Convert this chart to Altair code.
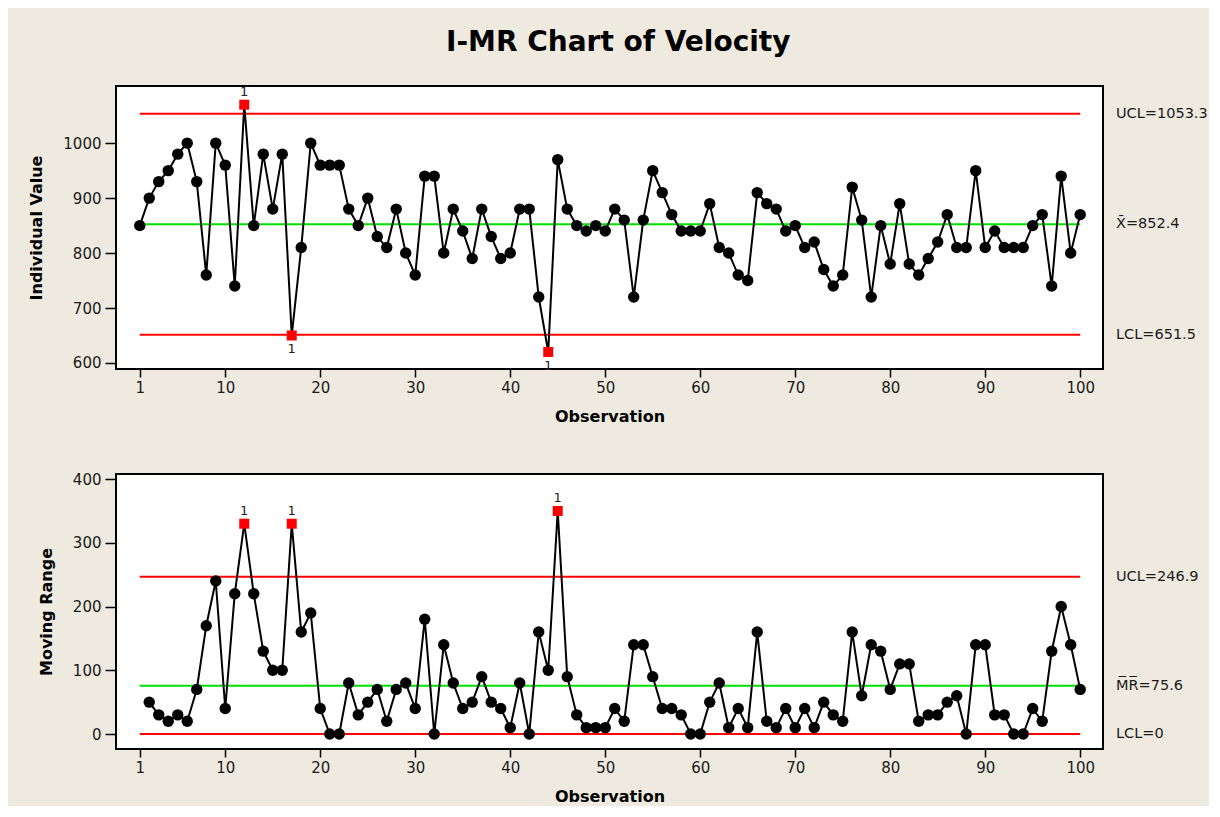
import altair as alt
import pandas as pd

# ---------------- data ----------------
observations = list(range(1, 101))
individual_values = [
    850, 900, 930, 950, 980, 1000, 930, 760, 1000, 960,
    740, 1070, 850, 980, 880, 980, 650, 810, 1000, 960,
    960, 960, 880, 850, 900, 830, 810, 880, 800, 760,
    940, 940, 800, 880, 840, 790, 880, 830, 790, 800,
    880, 880, 720, 620, 970, 880, 850, 840, 850, 840,
    880, 860, 720, 860, 950, 910, 870, 840, 840, 840,
    890, 810, 800, 760, 750, 910, 890, 880, 840, 850,
    810, 820, 770, 740, 760, 920, 860, 720, 850, 780,
    890, 780, 760, 790, 820, 870, 810, 810, 950, 810,
    840, 810, 810, 810, 850, 870, 740, 940, 800, 870,
]
mr_observations = list(range(2, 101))
moving_ranges = [
    50, 30, 20, 30, 20, 70, 170, 240, 40,
    220, 330, 220, 130, 100, 100, 330, 160, 190, 40,
    0, 0, 80, 30, 50, 70, 20, 70, 80, 40,
    180, 0, 140, 80, 40, 50, 90, 50, 40, 10,
    80, 0, 160, 100, 350, 90, 30, 10, 10, 10,
    40, 20, 140, 140, 90, 40, 40, 30, 0, 0,
    50, 80, 10, 40, 10, 160, 20, 10, 40, 10,
    40, 10, 50, 30, 20, 160, 60, 140, 130, 70,
    110, 110, 20, 30, 30, 50, 60, 0, 140, 140,
    30, 30, 0, 0, 40, 20, 130, 200, 140, 70,
]

i_limits = [1053.3, 852.4, 651.5]
i_limit_labels = ["UCL=1053.3", "X\u0304=852.4", "LCL=651.5"]
mr_limits = [246.9, 75.6, 0.0]
mr_limit_labels = ["UCL=246.9", "M\u0305R\u0305=75.6", "LCL=0"]
limit_kinds = ["limit", "center", "limit"]

i_out_points = [12, 17, 44]
i_out_above = [12]
mr_out_points = [12, 17, 45]
mr_out_above = [12, 17, 45]

x_tick_values = [1, 10, 20, 30, 40, 50, 60, 70, 80, 90, 100]
i_tick_values = [600, 700, 800, 900, 1000]
mr_tick_values = [0, 100, 200, 300, 400]

# ---------------- layout ----------------
W = 987
FONT = "DejaVu Sans"

x_scale = alt.Scale(domain=[-1.5, 102.4], nice=False, zero=False)


def panel(obs, vals, out_pts, out_above, lim_vals, lim_labels, y_dom, y_ticks, y_title, h):
    df = pd.DataFrame({"obs": obs, "val": vals})
    df["out"] = df["obs"].isin(out_pts)
    df["above"] = df["obs"].isin(out_above)
    df["one"] = "1"
    lim = pd.DataFrame({
        "lvl": lim_vals,
        "kind": limit_kinds,
        "lab": lim_labels,
        "x1": [observations[0]] * 3,
        "x2": [observations[-1]] * 3,
    })
    y_scale = alt.Scale(domain=y_dom, nice=False, zero=False)
    x_axis = alt.Axis(values=x_tick_values, title="Observation", tickSize=8,
                      labelPadding=3, titlePadding=13, format="d")
    y_axis = alt.Axis(values=y_ticks, title=y_title, tickSize=11,
                      labelPadding=4, titlePadding=18, format="d")

    def xe(f):
        return alt.X(f, type="quantitative", scale=x_scale, axis=x_axis)

    def ye(f):
        return alt.Y(f, type="quantitative", scale=y_scale, axis=y_axis)

    rules = alt.Chart(lim).mark_rule(strokeWidth=2).encode(
        x=xe("x1"), x2="x2:Q", y=ye("lvl"),
        color=alt.Color("kind:N", scale=alt.Scale(domain=["limit", "center"],
                                                  range=["#FF0000", "#00E000"]),
                        legend=None),
    )
    base = alt.Chart(df)
    line = base.mark_line(color="black", strokeWidth=2).encode(x=xe("obs"), y=ye("val"))
    dots = base.transform_filter("!datum.out").mark_circle(
        color="black", size=130, opacity=1).encode(x=xe("obs"), y=ye("val"))
    squares = base.transform_filter("datum.out").mark_square(
        color="#FF0000", size=100, opacity=1).encode(x=xe("obs"), y=ye("val"))
    t_above = base.transform_filter("datum.out && datum.above").mark_text(
        dy=-13, fontSize=13, font=FONT, color="#222222").encode(
        x=xe("obs"), y=ye("val"), text="one:N")
    t_below = base.transform_filter("datum.out && !datum.above").mark_text(
        dy=14, fontSize=13, font=FONT, color="#222222").encode(
        x=xe("obs"), y=ye("val"), text="one:N")
    labels = alt.Chart(lim).mark_text(
        align="left", baseline="middle", fontSize=14.5, font=FONT, color="#1a1a1a").encode(
        x=alt.value(W + 13), y=ye("lvl"), text="lab:N")
    return alt.layer(rules, line, dots, squares, t_above, t_below, labels).properties(
        width=W, height=h)


top = panel(observations, individual_values, i_out_points, i_out_above, i_limits,
            i_limit_labels, [589, 1104], i_tick_values, "Individual Value", 283)
bottom = panel(mr_observations, moving_ranges, mr_out_points, mr_out_above, mr_limits,
               mr_limit_labels, [-23.5, 408], mr_tick_values, "Moving Range", 275)

chart = alt.vconcat(top, bottom, spacing=105, bounds="flush").properties(
    title=alt.TitleParams("I-MR Chart of Velocity", fontSize=28, font=FONT,
                          fontWeight="bold", color="black", anchor="middle", offset=28),
    padding={"left": 19, "top": 20, "right": 0, "bottom": 1},
    background="#EEEAE0",
).configure_view(
    fill="white", stroke="black", strokeWidth=2
).configure_axis(
    grid=False, domain=False, tickColor="black", tickWidth=1.5,
    labelFont=FONT, labelFontSize=15, labelColor="#1a1a1a",
    titleFont=FONT, titleFontSize=16, titleFontWeight="bold", titleColor="black",
)

chart.save("out.html", embed_options={"renderer": "svg", "actions": False})
